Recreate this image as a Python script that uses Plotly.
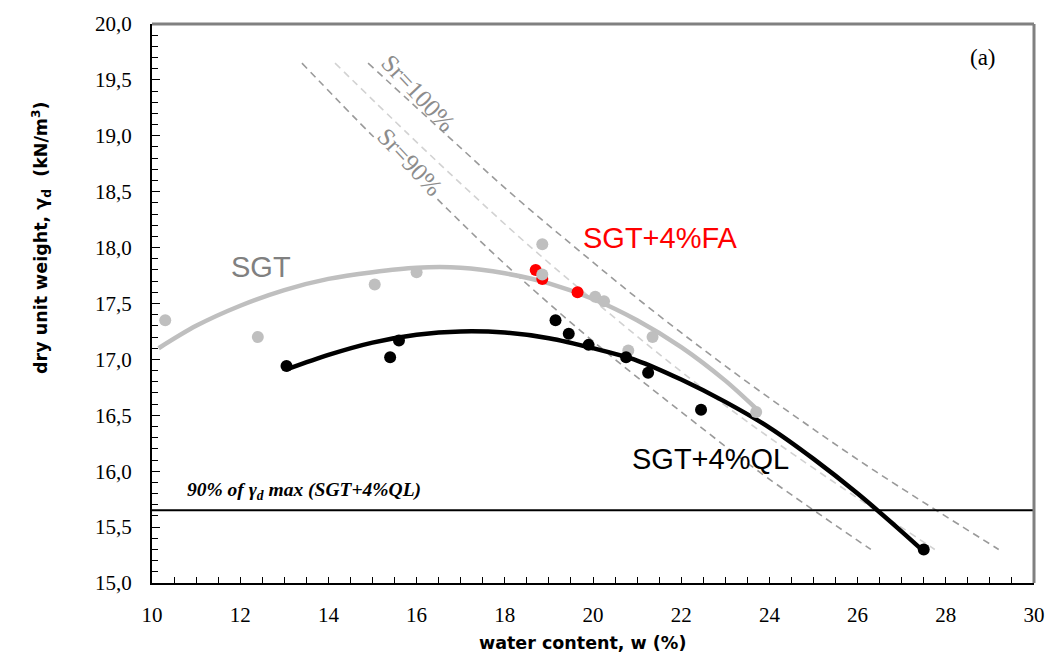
import plotly.graph_objects as go

# ---------------- data ----------------
# measured points
sgt_w = [10.3, 12.4, 15.05, 16.0, 18.85, 18.85, 20.05, 20.25, 20.8, 21.35, 23.7]
sgt_g = [17.35, 17.20, 17.67, 17.78, 18.03, 17.76, 17.56, 17.52, 17.08, 17.20, 16.53]
fa_w = [18.7, 18.85, 19.65]
fa_g = [17.80, 17.72, 17.60]
ql_w = [13.05, 15.4, 15.6, 19.15, 19.45, 19.9, 20.75, 21.25, 22.45, 27.5]
ql_g = [16.94, 17.02, 17.17, 17.35, 17.23, 17.13, 17.02, 16.88, 16.55, 15.30]

# trend curves
sgt_fit_w = [10.15, 11, 12, 13, 14, 15, 16, 17, 18, 19, 20, 21, 22, 23, 23.7]
sgt_fit_g = [17.10, 17.30, 17.48, 17.62, 17.72, 17.78, 17.82, 17.82, 17.77, 17.68, 17.54, 17.35, 17.11, 16.81, 16.56]
ql_fit_w = [13.05, 14, 15, 16, 17, 18, 19, 20, 21, 22, 23, 24, 25, 26, 27, 27.45]
ql_fit_g = [16.91, 17.04, 17.15, 17.22, 17.25, 17.24, 17.19, 17.10, 16.99, 16.82, 16.62, 16.39, 16.11, 15.80, 15.46, 15.30]

# saturation lines
sr_g = [19.65, 19.0, 18.5, 18.0, 17.5, 17.0, 16.5, 16.0, 15.3]
sr90_w = [13.4, 15.0, 16.3, 17.6, 19.0, 20.5, 22.1, 23.75, 26.3]
sr95_w = [14.15, 15.85, 17.2, 18.6, 20.1, 21.65, 23.3, 25.1, 27.75]
sr100_w = [14.9, 16.7, 18.1, 19.6, 21.15, 22.8, 24.55, 26.4, 29.2]

# 90% of max dry unit weight line
h_w = [10, 30]
h_g = [15.65, 15.65]

# ticks
x_ticks = [10, 12, 14, 16, 18, 20, 22, 24, 26, 28, 30]
y_ticks = [15.0, 15.5, 16.0, 16.5, 17.0, 17.5, 18.0, 18.5, 19.0, 19.5, 20.0]
y_ticktext = ["15,0", "15,5", "16,0", "16,5", "17,0", "17,5", "18,0", "18,5", "19,0", "19,5", "20,0"]

DARK_DASH = "#9a9a9a"
LIGHT_DASH = "#d2d2d2"
GRAY = "#bfbfbf"

serif = "Liberation Serif, Times New Roman, serif"
sans = "Liberation Sans, Arial, sans-serif"
wide = "DejaVu Sans, Verdana, sans-serif"

fig = go.Figure()

fig.add_trace(go.Scatter(x=sr90_w, y=sr_g, mode="lines", line=dict(color=DARK_DASH, width=1.6, dash="7px,5px", shape="spline"), hoverinfo="skip"))
fig.add_trace(go.Scatter(x=sr95_w, y=sr_g, mode="lines", line=dict(color=LIGHT_DASH, width=1.6, dash="7px,5px", shape="spline"), hoverinfo="skip"))
fig.add_trace(go.Scatter(x=sr100_w, y=sr_g, mode="lines", line=dict(color=DARK_DASH, width=1.6, dash="7px,5px", shape="spline"), hoverinfo="skip"))

fig.add_trace(go.Scatter(x=h_w, y=h_g, mode="lines", line=dict(color="black", width=2)))

fig.add_trace(go.Scatter(x=sgt_fit_w, y=sgt_fit_g, mode="lines", line=dict(color=GRAY, width=4.5, shape="spline", smoothing=0.8)))
fig.add_trace(go.Scatter(x=ql_fit_w, y=ql_fit_g, mode="lines", line=dict(color="black", width=4.5, shape="spline", smoothing=0.8)))

fig.add_trace(go.Scatter(x=fa_w, y=fa_g, mode="markers", marker=dict(color="#ff0000", size=12)))
fig.add_trace(go.Scatter(x=sgt_w, y=sgt_g, mode="markers", marker=dict(color=GRAY, size=12)))
fig.add_trace(go.Scatter(x=ql_w, y=ql_g, mode="markers", marker=dict(color="black", size=12)))

fig.update_layout(
    width=1057, height=670,
    margin=dict(l=152, r=14, t=22, b=87),
    plot_bgcolor="white", paper_bgcolor="white",
    showlegend=False,
    font=dict(family=serif, size=21, color="black"),
    xaxis=dict(
        range=[10, 30], showgrid=False, zeroline=False,
        showline=True, linecolor="black", linewidth=2,
        tickmode="array", tickvals=x_ticks, ticktext=[str(v) for v in x_ticks],
        ticks="inside", ticklen=6, tickcolor="black", tickwidth=1,
        minor=dict(dtick=0.5, ticks="inside", ticklen=6, tickcolor="black", tickwidth=1),
        tickfont=dict(family=serif, size=21, color="black"),
        ticklabelstandoff=12,
    ),
    yaxis=dict(
        range=[15, 20], showgrid=False, zeroline=False,
        showline=True, linecolor="black", linewidth=2,
        tickmode="array", tickvals=y_ticks, ticktext=y_ticktext,
        ticks="inside", ticklen=8, tickcolor="black", tickwidth=1,
        minor=dict(dtick=0.1, ticks="inside", ticklen=6, tickcolor="black", tickwidth=1),
        tickfont=dict(family=serif, size=21, color="black"),
        ticklabelstandoff=14,
    ),
)

# plot-area frame (top and right in gray)
fig.add_shape(type="line", xref="paper", yref="paper", x0=0, x1=1, y0=1, y1=1, line=dict(color="#808080", width=3))
fig.add_shape(type="line", xref="paper", yref="paper", x0=1, x1=1, y0=0, y1=1, line=dict(color="#808080", width=3))

# text annotations
fig.add_annotation(x=12.47, y=17.83, text="SGT", showarrow=False, font=dict(family=sans, size=29, color="#808080"))
fig.add_annotation(x=21.54, y=18.09, text="SGT+4%FA", showarrow=False, font=dict(family=sans, size=29, color="#ff0000"))
fig.add_annotation(x=22.66, y=16.11, text="SGT+4%QL", showarrow=False, font=dict(family=sans, size=29, color="black"))
fig.add_annotation(x=28.85, y=19.70, text="(a)", showarrow=False, font=dict(family=serif, size=23, color="black"))
fig.add_annotation(x=16.05, y=19.38, text="Sr=100%", showarrow=False, textangle=47,
                   font=dict(family=serif, size=25, color="#8c8c8c"))
fig.add_annotation(x=15.84, y=18.77, text="Sr=90%", showarrow=False, textangle=47, bgcolor="white",
                   font=dict(family=serif, size=25, color="#8c8c8c"))
fig.add_annotation(x=10.74, y=15.82, text="<b><i>90% of γ<sub>d</sub> max (SGT+4%QL)</i></b>", showarrow=False,
                   xanchor="left", font=dict(family=serif, size=19.5, color="black"))

# axis titles
fig.add_annotation(xref="paper", yref="paper", x=0.488, y=-0.128, text="<b>water content, w (%)</b>",
                   showarrow=False, font=dict(family=wide, size=17.5, color="black"))
fig.add_annotation(xref="paper", yref="paper", x=-0.1425, y=0.617,
                   text="<b>dry unit weight, γ<sub>d</sub>  (kN/m<sup>3</sup>)</b>",
                   showarrow=False, textangle=-90, font=dict(family=wide, size=17.5, color="black"))

fig.write_html("out.html")
